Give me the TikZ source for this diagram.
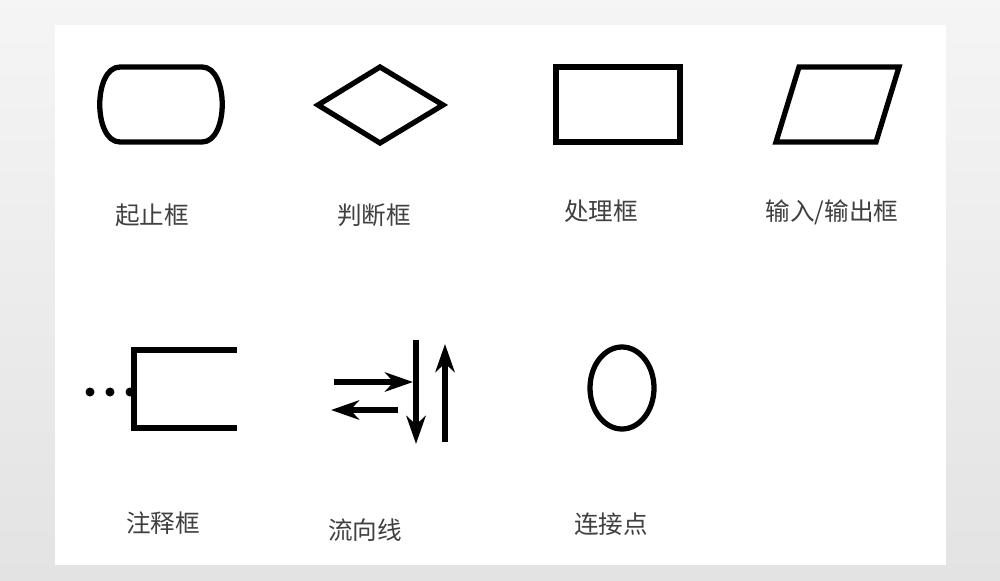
\documentclass[tikz,border=0pt]{standalone}
\usepackage{fontspec}
\newfontfamily\cjk{Noto Sans CJK SC}
\usetikzlibrary{arrows.meta}

\begin{document}
\begin{tikzpicture}[x=0.02cm, y=-0.02cm,
  sym/.style={line width=3pt, black},
  flow/.style={line width=3pt, -{Stealth[length=16pt, width=11pt, inset=5pt]}},
  lbl/.style={font=\cjk\fontsize{14}{16}\selectfont, text=black!75}]
\shade[top color=gray!8, bottom color=gray!22] (0,0) rectangle (1000,581);
\fill[white] (55,25) rectangle (946,565);
% first row
\draw[sym] (120,67) -- (202,67) .. controls (229,67) and (229,142) .. (202,142) -- (120,142) .. controls (93,142) and (93,67) .. (120,67) -- cycle;
\draw[sym] (318,105) -- (380,67) -- (443,105) -- (380,143) -- cycle;
\draw[sym] (556,67) rectangle (680,142);
\draw[sym] (799,67) -- (899,67) -- (876,142) -- (776,142) -- cycle;
\node[lbl] (start) at (152,215) {起止框};
\node[lbl] (decision) at (374,215) {判断框};
\node[lbl] (process) at (601,211) {处理框};
\node[lbl] (io) at (832,212) {输入/输出框};
% second row
\foreach \x in {90,110,130}
  \fill (\x,392) circle (4.5);
\draw[sym] (237,350) -- (134,350) -- (134,428) -- (237,428);
\coordinate (r1) at (334,382);
\coordinate (r2) at (413,382);
\coordinate (l1) at (398,410);
\coordinate (l2) at (331,410);
\coordinate (d1) at (416,340);
\coordinate (d2) at (416,444);
\coordinate (u1) at (445,442);
\coordinate (u2) at (445,344);
\draw[flow] (r1) -- (r2);
\draw[flow] (l1) -- (l2);
\draw[flow] (d1) -- (d2);
\draw[flow] (u1) -- (u2);
\draw[sym] (622,388) ellipse [x radius=32, y radius=41];
\node[lbl] (note) at (163,523) {注释框};
\node[lbl] (flowline) at (365,530) {流向线};
\node[lbl] (connector) at (611,524) {连接点};
\end{tikzpicture}
\end{document}
